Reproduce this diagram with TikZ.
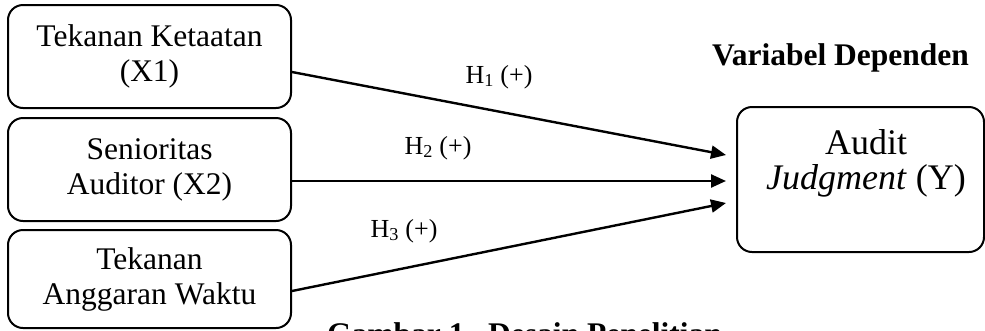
\documentclass[tikz,border=0pt]{standalone}
\usepackage{fontspec}
\setmainfont{Liberation Serif}
\usetikzlibrary{arrows.meta}
\begin{document}
\begin{tikzpicture}[x=1pt,y=-1pt,
  varbox/.style={draw, line width=2pt, rounded corners=15pt, align=center, inner sep=0pt, font=\fontsize{31.5}{35}\selectfont},
  link/.style={line width=2.4pt, -{Triangle[length=15pt,width=13pt]}},
  hyp/.style={anchor=base, font=\fontsize{26}{30}\selectfont, inner sep=0pt},
  ttl/.style={font=\fontsize{31.5}{35}\selectfont\bfseries, inner sep=0pt}]
\useasboundingbox (0,0) rectangle (985,330);
\begin{scope}
\clip (0,0) rectangle (985,330);
\node[varbox, minimum width=283pt, minimum height=103pt] (X1) at (149.5,56.5) {Tekanan Ketaatan\\(X1)};
\node[varbox, minimum width=283pt, minimum height=103pt] (X2) at (149.5,169.5) {Senioritas\\Auditor (X2)};
\node[varbox, minimum width=283pt, minimum height=98pt] (X3) at (149.5,279) {Tekanan\\Anggaran Waktu};
\node[draw, line width=2pt, rounded corners=15pt, minimum width=247pt, minimum height=145pt, inner sep=0pt] (Y) at (860.5,179.5) {};
\node[align=center, inner sep=0pt, font=\fontsize{36}{35}\selectfont] (Ytext) at (866,163) {Audit\\\textit{Judgment} (Y)};
\node[ttl, anchor=base] (dep) at (840.5,65) {Variabel Dependen};
\node[hyp] (H1) at (499,83) {H\textsubscript{1} (+)};
\node[hyp] (H2) at (438,154) {H\textsubscript{2} (+)};
\node[hyp] (H3) at (404,237) {H\textsubscript{3} (+)};
\draw[link] ([yshift=-15.5pt]X1.east) -- ([xshift=-10pt,yshift=24.5pt]Y.west);
\draw[link] ([yshift=-11.5pt]X2.east) -- ([xshift=-10pt,yshift=-1.5pt]Y.west);
\draw[link] ([yshift=-12pt]X3.east) -- ([xshift=-10pt,yshift=-23.5pt]Y.west);
\node[ttl, anchor=base west] (cap) at (327,344.5) {Gambar 1.\ \ Desain Penelitian};
\end{scope}
\end{tikzpicture}
\end{document}
